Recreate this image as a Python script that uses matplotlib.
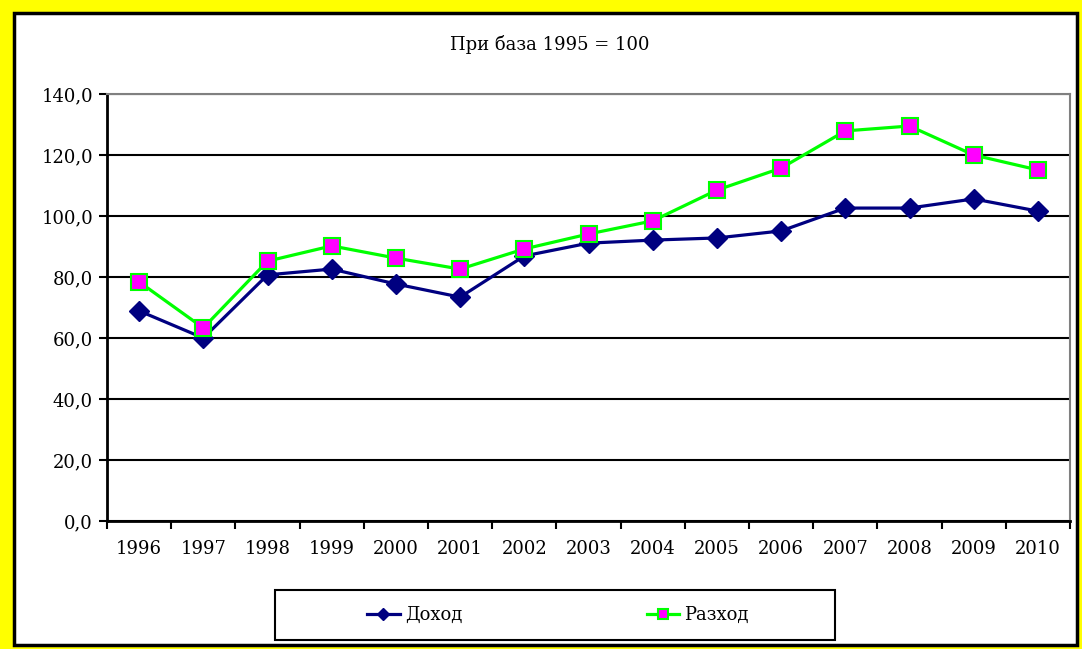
import matplotlib.pyplot as plt
from matplotlib.patches import Rectangle

years = ["1996", "1997", "1998", "1999", "2000", "2001", "2002", "2003",
         "2004", "2005", "2006", "2007", "2008", "2009", "2010"]
dohod = [68.9, 60.0, 80.7, 82.6, 77.7, 73.4, 86.9, 91.1, 92.1, 92.8, 95.1,
         102.6, 102.6, 105.6, 101.6]
razhod = [78.4, 63.3, 85.2, 90.2, 86.2, 82.6, 89.2, 94.1, 98.4, 108.5, 115.7,
          127.9, 129.5, 120.0, 115.1]

plt.rcParams['font.family'] = ['DejaVu Serif', 'Liberation Serif']

W, H = 1082, 649
fig = plt.figure(figsize=(W / 100, H / 100), dpi=100, facecolor='#ffff00')

# white chart area with black frame
fig.patches.append(Rectangle((14 / W, 1 - 645 / H), (1077 - 14) / W, (645 - 13) / H,
                             transform=fig.transFigure, facecolor='white',
                             edgecolor='black', linewidth=2.5, zorder=-10))
# legend frame
fig.patches.append(Rectangle((275 / W, 1 - 640 / H), 560 / W, 50 / H,
                             transform=fig.transFigure, facecolor='white',
                             edgecolor='black', linewidth=1.5, zorder=-5))

ax = fig.add_axes([107 / W, 1 - 521 / H, (1070 - 107) / W, (521 - 94) / H])
x = list(range(len(years)))

ax.plot(x, dohod, color='#000080', lw=2.3, marker='D', ms=10,
        mfc='#000080', mec='#000080', label='Доход', zorder=3)
ax.plot(x, razhod, color='#00ff00', lw=2.3, marker='s', ms=11,
        mfc='#ff00ff', mec='#00ff00', mew=1.5, label='Разход', zorder=4)

ax.set_xlim(-0.5, len(years) - 0.5)
ax.set_ylim(0, 140)
ax.set_yticks(range(0, 141, 20))
ax.set_yticklabels([f"{v},0" for v in range(0, 141, 20)], fontsize=13)
ax.set_xticks(x)
ax.set_xticklabels(years, fontsize=13)
ax.set_xticks([i - 0.5 for i in range(len(years) + 1)], minor=True)
ax.tick_params(axis='x', which='major', length=0, pad=14)
ax.tick_params(axis='x', which='minor', length=6, width=1.5, direction='out')
ax.tick_params(axis='y', length=6, width=1.5, direction='out', pad=4)

ax.yaxis.grid(True, color='black', lw=1.5)
ax.set_axisbelow(True)
for s in ['left', 'bottom']:
    ax.spines[s].set_color('black')
    ax.spines[s].set_linewidth(2)
for s in ['top', 'right']:
    ax.spines[s].set_color('#808080')
    ax.spines[s].set_linewidth(1.5)

fig.text(550 / W, 1 - 45 / H, "При база 1995 = 100", ha='center', va='center',
         fontsize=13)

leg = fig.legend(loc='center', ncol=2, bbox_to_anchor=(558 / W, 1 - 615 / H),
                 frameon=False, fontsize=13, handlelength=1.8,
                 handletextpad=0.3, columnspacing=10.2, markerscale=0.6)

fig.savefig("out.png", dpi=100, facecolor=fig.get_facecolor())
